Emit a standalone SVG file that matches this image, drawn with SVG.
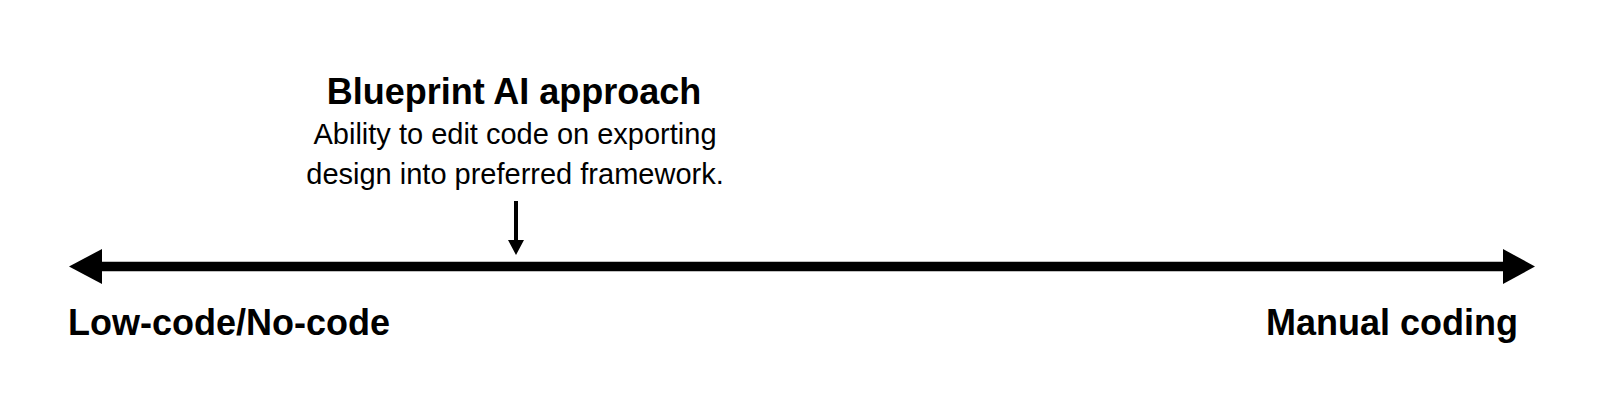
<svg xmlns="http://www.w3.org/2000/svg" width="1600" height="403" viewBox="0 0 1600 403">
<style>
.bold{font-family:"Liberation Sans",Arial,sans-serif;font-weight:bold;font-size:36px;fill:#000}
.title{font-size:36px}
.reg{font-family:"Liberation Sans",Arial,sans-serif;font-size:29px;fill:#000}
</style>
<rect width="1600" height="403" fill="#fff"/>
<g id="connectors">
<line x1="100" y1="266.5" x2="1505" y2="266.5" stroke="#000" stroke-width="9.5"/>
<polygon points="69,266.5 102,249 102,284" fill="#000"/>
<polygon points="1535,266.5 1503,249 1503,284" fill="#000"/>
<line x1="516" y1="201" x2="516" y2="242" stroke="#000" stroke-width="4"/>
<polygon points="508,240 524,240 516,255" fill="#000"/>
</g>
<g id="node-blueprint">
<text class="bold title" x="514" y="104" text-anchor="middle">Blueprint AI approach</text>
<text class="reg" x="515" y="144" text-anchor="middle">Ability to edit code on exporting</text>
<text class="reg" x="515" y="184" text-anchor="middle">design into preferred framework.</text>
</g>
<g id="node-lowcode">
<text class="bold" x="68" y="335">Low-code/No-code</text>
</g>
<g id="node-manual">
<text class="bold" x="1518" y="335" text-anchor="end">Manual coding</text>
</g>
</svg>
